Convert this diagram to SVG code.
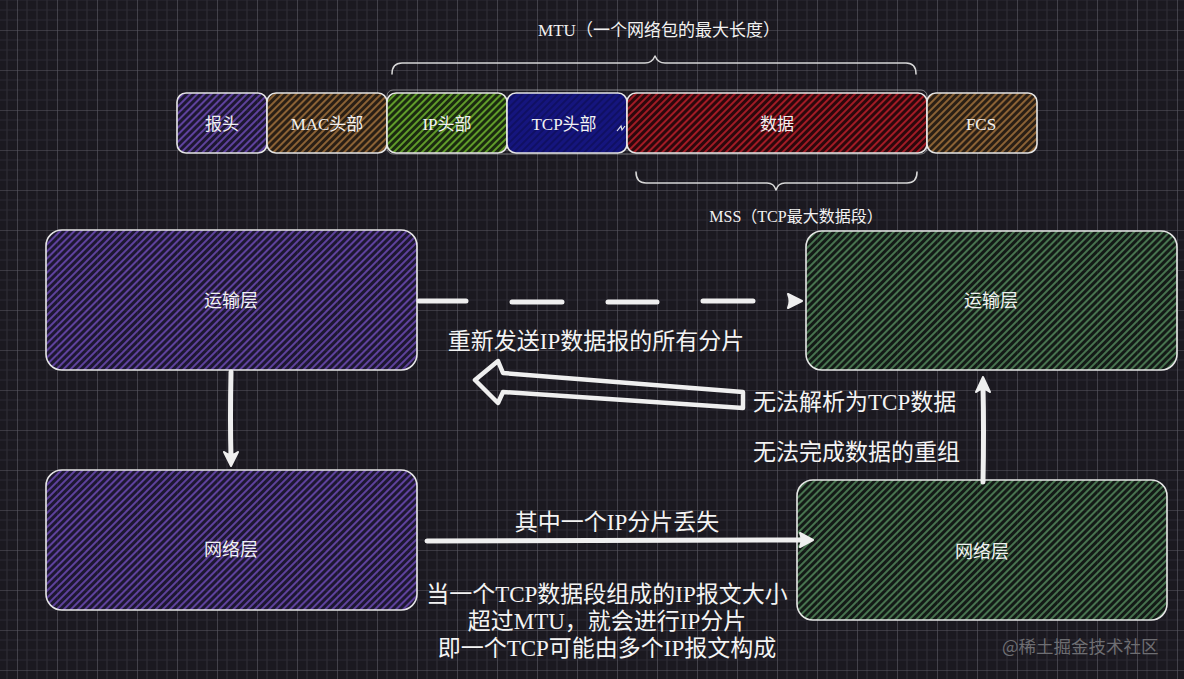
<svg xmlns="http://www.w3.org/2000/svg" width="1184" height="679" viewBox="0 0 1184 679">
<style>
.bx{stroke:#e6e6e6;stroke-width:1.6;}
.bx2{fill:none;stroke:#e6e6e6;stroke-width:0.8;opacity:0.6;}
.lbl{font-family:"Liberation Serif","Noto Sans CJK SC",serif;fill:#f2f2f2;text-anchor:middle;}
.sans{font-family:"Noto Sans CJK SC","Noto Sans",sans-serif;fill:#f2f2f2;text-anchor:middle;font-size:18px;}
.big{font-family:"Liberation Serif","Noto Sans CJK SC",serif;fill:#f4f4f4;font-size:23px;}
.ln{fill:none;stroke:#efefef;stroke-width:5;stroke-linecap:round;stroke-linejoin:round;}
.brace{fill:none;stroke:#d8d8d8;stroke-width:1.5;stroke-linecap:round;stroke-linejoin:round;}
.head{fill:#efefef;stroke:#efefef;stroke-width:2;stroke-linejoin:round;}
</style>
<defs>
<pattern id="grid" width="40" height="40" x="17" y="30" patternUnits="userSpaceOnUse">
<path d="M10 0V40M20 0V40M30 0V40M0 10H40M0 20H40M0 30H40" stroke="#2c2a33" stroke-width="1.2" fill="none"/>
<path d="M0 0V40M0 0H40" stroke="#5c5a63" stroke-width="1.2" fill="none"/>
</pattern>
<pattern id="hPur" width="5" height="5" patternUnits="userSpaceOnUse" patternTransform="rotate(45)">
<rect width="5" height="5" fill="#1e1636" opacity="0.8"/>
<line x1="1" y1="0" x2="1" y2="5" stroke="#6e4cb8" stroke-width="1.6"/>
</pattern>
<pattern id="hGrn" width="5" height="5" patternUnits="userSpaceOnUse" patternTransform="rotate(45)">
<rect width="5" height="5" fill="#111a14" opacity="0.8"/>
<line x1="1" y1="0" x2="1" y2="5" stroke="#5c9866" stroke-width="1.4"/>
</pattern>
<pattern id="hLime" width="5" height="5" patternUnits="userSpaceOnUse" patternTransform="rotate(45)">
<rect width="5" height="5" fill="#1b2a10"/>
<line x1="1" y1="0" x2="1" y2="5" stroke="#6cb02e" stroke-width="1.7"/>
</pattern>
<pattern id="hRed" width="5" height="5" patternUnits="userSpaceOnUse" patternTransform="rotate(45)">
<rect width="5" height="5" fill="#2c080c"/>
<line x1="1" y1="0" x2="1" y2="5" stroke="#a81c26" stroke-width="1.9"/>
</pattern>
<pattern id="hBrn" width="5" height="5" patternUnits="userSpaceOnUse" patternTransform="rotate(45)">
<rect width="5" height="5" fill="#2a1f15"/>
<line x1="1" y1="0" x2="1" y2="5" stroke="#9c6e3a" stroke-width="1.7"/>
</pattern>
<pattern id="hNav" width="5" height="5" patternUnits="userSpaceOnUse" patternTransform="rotate(45)">
<rect width="5" height="5" fill="#15157e"/>
<line x1="1" y1="0" x2="1" y2="5" stroke="#0c0c50" stroke-width="1.2"/>
</pattern>
</defs>
<rect width="1184" height="679" fill="#1b1920"/>
<rect width="1184" height="679" fill="url(#grid)"/>

<g id="mtu-label">
<text class="lbl" x="659" y="36" font-size="17">MTU（一个网络包的最大长度）</text>
<path class="brace" d="M392 74Q392 63 402 63L645 63Q652 63 655 56Q658 63 665 63L906 63Q916 63 916 74"/>
</g>

<g id="packet">
<rect x="387" y="90" width="540" height="64" rx="6" class="bx2"/>
<g id="cell-baotou"><rect x="177" y="93" width="90" height="60" rx="9" fill="url(#hPur)" class="bx"/><text class="lbl" x="222" y="130" font-size="17">报头</text></g>
<g id="cell-mac"><rect x="267" y="93" width="120" height="60" rx="9" fill="url(#hBrn)" class="bx"/><text class="lbl" x="327" y="130" font-size="17">MAC头部</text></g>
<g id="cell-ip"><rect x="387" y="93" width="120" height="60" rx="9" fill="url(#hLime)" class="bx"/><text class="lbl" x="447" y="130" font-size="17">IP头部</text></g>
<g id="cell-tcp"><rect x="507" y="93" width="120" height="60" rx="9" fill="url(#hNav)" class="bx"/><text class="lbl" x="564" y="130" font-size="17">TCP头部</text>
<path d="M617 131l4-5l1 4l3-4" fill="none" stroke="#e6e6e6" stroke-width="1.2"/></g>
<g id="cell-data"><rect x="627" y="93" width="300" height="60" rx="9" fill="url(#hRed)" class="bx"/><text class="lbl" x="777" y="130" font-size="17">数据</text></g>
<g id="cell-fcs"><rect x="927" y="93" width="110" height="60" rx="9" fill="url(#hBrn)" class="bx"/><text class="lbl" x="981" y="130" font-size="17">FCS</text></g>
</g>

<g id="mss-label">
<path class="brace" d="M636 172Q636 183 646 183L767 183Q774 183 776 190Q778 183 785 183L907 183Q917 183 917 172"/>
<text class="lbl" x="796" y="222" font-size="16">MSS（TCP最大数据段）</text>
</g>

<g id="transport-left"><rect x="46" y="230" width="371" height="140" rx="16" fill="url(#hPur)" class="bx"/><text class="sans" x="231" y="307">运输层</text></g>
<g id="transport-right"><rect x="806" y="231" width="371" height="139" rx="16" fill="url(#hGrn)" class="bx"/><text class="sans" x="991" y="307">运输层</text></g>
<g id="network-left"><rect x="46" y="470" width="371" height="140" rx="16" fill="url(#hPur)" class="bx"/><text class="sans" x="231" y="556">网络层</text></g>
<g id="network-right"><rect x="797" y="480" width="370" height="140" rx="16" fill="url(#hGrn)" class="bx"/><text class="sans" x="982" y="558">网络层</text></g>

<g id="connectors">
<path class="ln" d="M419 301H466M512 302H562M608 302H657M703 301H753"/>
<path class="head" d="M788 294L802 301L788 308Q791 301 788 294Z"/>
<path class="ln" d="M231 372Q230 420 231 458"/>
<path class="head" d="M224 452Q231 458 238 452L231 466Z"/>
<path class="ln" d="M427 541Q620 540 804 540"/>
<path class="head" d="M800 533L813 540L800 547Q803 540 800 533Z"/>
<path class="ln" d="M983 482Q984 430 983 386"/>
<path class="head" d="M976 392Q983 386 990 392L983 377Z"/>
<path d="M743 392L503 373L498 361L475 380L498 403L503 392L743 408Z" fill="none" stroke="#efefef" stroke-width="4.5" stroke-linejoin="round"/>
</g>

<g id="labels">
<text class="big" x="596" y="349" text-anchor="middle">重新发送IP数据报的所有分片</text>
<text class="big" x="753" y="410">无法解析为TCP数据</text>
<text class="big" x="753" y="460">无法完成数据的重组</text>
<text class="big" x="617" y="530" text-anchor="middle">其中一个IP分片丢失</text>
<text class="big" x="607" y="602" text-anchor="middle">当一个TCP数据段组成的IP报文大小</text>
<text class="big" x="607" y="629" text-anchor="middle">超过MTU，就会进行IP分片</text>
<text class="big" x="607" y="656" text-anchor="middle">即一个TCP可能由多个IP报文构成</text>
<text x="1002" y="653" font-family="Noto Sans CJK SC,sans-serif" font-size="17.5" fill="#6e6e72">@稀土掘金技术社区</text>
</g>
</svg>
